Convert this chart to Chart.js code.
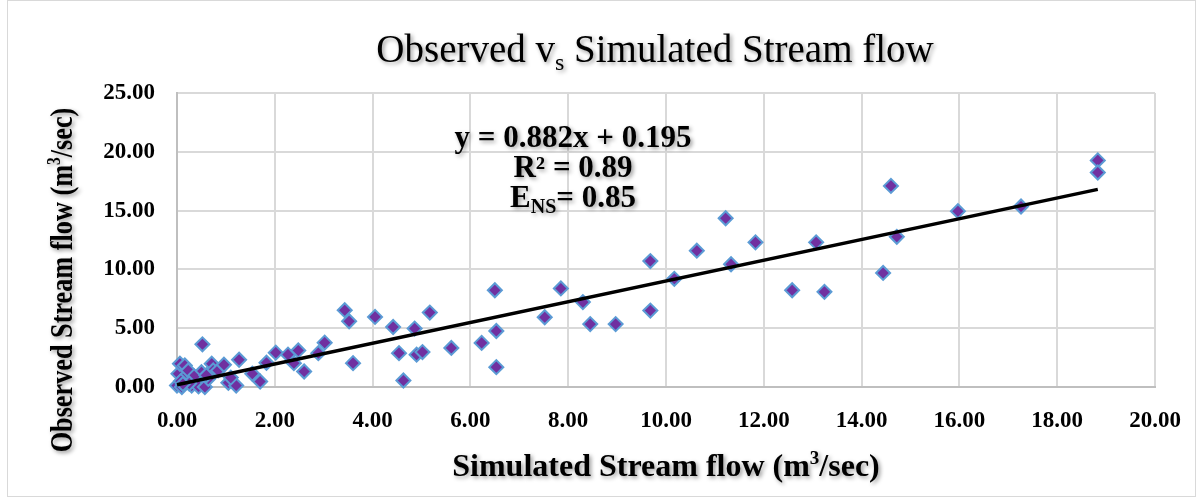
<!DOCTYPE html>
<html>
<head>
<meta charset="utf-8">
<title>Observed vs Simulated Stream flow</title>
<script src="https://cdn.jsdelivr.net/npm/chart.js@4.4.1/dist/chart.umd.min.js"></script>
<style>
  html, body { margin: 0; padding: 0; background: #fff; }
  #wrap { width: 1203px; height: 501px; position: relative; }
</style>
</head>
<body>
<div id="wrap"><canvas id="flowChart" width="1203" height="501"></canvas></div>
<script>
// simulated (x) and observed (y) stream flow, m3/sec
var simulated = [
  0.00, 0.10, 0.03, 0.06, 0.16, 0.16, 0.23, 0.30, 0.44, 0.44,
  0.50, 0.52, 0.57, 0.64, 0.71, 0.74, 0.84, 0.96, 1.05, 1.21,
  1.27, 1.54, 1.70, 1.83, 0.08, 0.35, 0.25, 0.12, 0.60, 1.10,
  2.02, 2.27, 2.48, 2.39, 2.60, 2.89, 3.02, 3.43, 3.52, 3.60,
  4.05, 4.42, 4.54, 4.63, 4.86, 4.90, 5.02, 5.17, 5.61, 6.23,
  6.50, 6.53, 6.53, 7.52, 7.85, 8.30, 8.45, 8.97, 9.68, 9.68,
  10.17, 10.63, 11.22, 11.33, 11.83, 12.58, 13.07, 13.24, 14.44, 14.60,
  14.72, 15.97, 17.26, 18.83, 18.83
];
var observed = [
  0.13, 0.00, 1.13, 1.98, 1.83, 0.84, 1.41, 0.13, 0.55, 0.05,
  1.26, 3.63, 0.00, 0.70, 1.98, 1.41, 1.41, 1.89, 0.36, 0.13,
  2.32, 1.13, 0.47, 2.06, 0.50, 0.90, 0.30, 0.25, 1.00, 0.80,
  2.92, 2.75, 3.11, 2.03, 1.32, 2.88, 3.77, 6.53, 5.59, 2.03,
  5.96, 5.10, 2.88, 0.55, 4.97, 2.75, 2.97, 6.33, 3.32, 3.75,
  8.23, 4.76, 1.69, 5.93, 8.38, 7.22, 5.35, 5.35, 10.71, 6.50,
  9.20, 11.59, 14.35, 10.44, 12.30, 8.23, 12.30, 8.09, 9.70, 17.10,
  12.77, 14.95, 15.35, 19.27, 18.24
];

// linear trend fitted to the points
var slope = 0.882;
var intercept = 0.195;
var rSquared = 0.89;
var nashSutcliffe = 0.85;

var xTicks = [0, 2, 4, 6, 8, 10, 12, 14, 16, 18, 20];
var yTicks = [0, 5, 10, 15, 20, 25];

var points = simulated.map(function (x, i) { return { x: x, y: observed[i] }; });
var xEnd = Math.max.apply(null, simulated);
var trend = [0, xEnd].map(function (x) { return { x: x, y: slope * x + intercept }; });

var SERIF = '"Liberation Serif", "Times New Roman", serif';

// draws a row of text pieces (normal / sub / superscript) centred on cx
function drawRuns(ctx, runs, cx, baseY) {
  var total = 0;
  runs.forEach(function (r) {
    ctx.font = r.font;
    r.w = ctx.measureText(r.t).width;
    total += r.w;
  });
  var x = cx - total / 2;
  runs.forEach(function (r) {
    ctx.font = r.font;
    ctx.fillText(r.t, x, baseY + (r.dy || 0));
    x += r.w;
  });
}

var decorations = {
  id: 'decorations',
  beforeDraw: function (chart) {
    var ctx = chart.ctx;
    ctx.save();
    ctx.fillStyle = '#fff';
    ctx.fillRect(0, 0, chart.width, chart.height);
    ctx.strokeStyle = '#d9d9d9';
    ctx.lineWidth = 1;
    ctx.strokeRect(7.5, 0.5, 1188, 496);
    ctx.restore();
  },
  afterDraw: function (chart) {
    var ctx = chart.ctx;
    var area = chart.chartArea;
    ctx.save();
    ctx.fillStyle = '#000';
    ctx.textAlign = 'left';
    ctx.textBaseline = 'alphabetic';
    ctx.shadowColor = 'rgba(0,0,0,0.4)';
    ctx.shadowBlur = 4;
    ctx.shadowOffsetX = 2;
    ctx.shadowOffsetY = 2;

    // chart title
    drawRuns(ctx, [
      { t: 'Observed v', font: '39px ' + SERIF },
      { t: 's', font: '24px ' + SERIF, dy: 8 },
      { t: ' Simulated Stream flow', font: '39px ' + SERIF }
    ], 655, 62);

    // trend equation and goodness of fit
    var eqX = 573;
    drawRuns(ctx, [
      { t: 'y = ' + slope.toFixed(3) + 'x + ' + intercept.toFixed(3), font: 'bold 31px ' + SERIF }
    ], eqX, 147);
    drawRuns(ctx, [
      { t: 'R\u00b2 = ' + rSquared.toFixed(2), font: 'bold 31px ' + SERIF }
    ], eqX, 177);
    drawRuns(ctx, [
      { t: 'E', font: 'bold 31px ' + SERIF },
      { t: 'NS', font: 'bold 20px ' + SERIF, dy: 6 },
      { t: '= ' + nashSutcliffe.toFixed(2), font: 'bold 31px ' + SERIF }
    ], eqX, 207);

    // axis titles
    drawRuns(ctx, [
      { t: 'Simulated Stream flow (m', font: 'bold 32px ' + SERIF },
      { t: '3', font: 'bold 19px ' + SERIF, dy: -12 },
      { t: '/sec)', font: 'bold 32px ' + SERIF }
    ], (area.left + area.right) / 2, 476);

    ctx.translate(72, 280);
    ctx.rotate(-Math.PI / 2);
    ctx.scale(0.82, 1);
    drawRuns(ctx, [
      { t: 'Observed Stream flow (m', font: 'bold 32px ' + SERIF },
      { t: '3', font: 'bold 19px ' + SERIF, dy: -12 },
      { t: '/sec)', font: 'bold 32px ' + SERIF }
    ], 0, 0);
    ctx.restore();
  }
};

var ctx = document.getElementById('flowChart').getContext('2d');
new Chart(ctx, {
  type: 'scatter',
  data: {
    datasets: [{
      label: 'Observed',
      data: points,
      pointStyle: 'rectRot',
      pointRadius: 7,
      pointHoverRadius: 7,
      backgroundColor: '#7030a0',
      borderColor: '#5b9bd5',
      borderWidth: 2,
      clip: false,
      order: 1
    }, {
      type: 'line',
      label: 'Linear trend',
      data: trend,
      borderColor: '#000',
      borderWidth: 3.5,
      pointRadius: 0,
      fill: false,
      clip: false,
      order: 0
    }]
  },
  options: {
    responsive: false,
    animation: false,
    layout: { padding: { top: 93, right: 48, left: 0, bottom: 0 } },
    plugins: {
      legend: { display: false },
      title: { display: false },
      tooltip: { enabled: false }
    },
    scales: {
      x: {
        type: 'linear',
        min: xTicks[0],
        max: xTicks[xTicks.length - 1],
        afterBuildTicks: function (scale) {
          scale.ticks = xTicks.map(function (v) { return { value: v }; });
        },
        afterFit: function (scale) { scale.height = 114; },
        ticks: {
          padding: 20,
          color: '#000',
          font: { family: SERIF, size: 23, weight: 'bold' },
          callback: function (v) { return v.toFixed(2); }
        },
        grid: { color: '#d9d9d9', lineWidth: 2, drawTicks: false },
        border: { color: '#bfbfbf', width: 2 }
      },
      y: {
        min: yTicks[0],
        max: yTicks[yTicks.length - 1],
        afterBuildTicks: function (scale) {
          scale.ticks = yTicks.map(function (v) { return { value: v }; });
        },
        afterFit: function (scale) { scale.width = 177; },
        ticks: {
          padding: 22,
          color: '#000',
          font: { family: SERIF, size: 23, weight: 'bold' },
          callback: function (v) { return v.toFixed(2); }
        },
        grid: { color: '#d9d9d9', lineWidth: 2, drawTicks: false },
        border: { color: '#bfbfbf', width: 2 }
      }
    }
  },
  plugins: [decorations]
});
</script>
</body>
</html>
